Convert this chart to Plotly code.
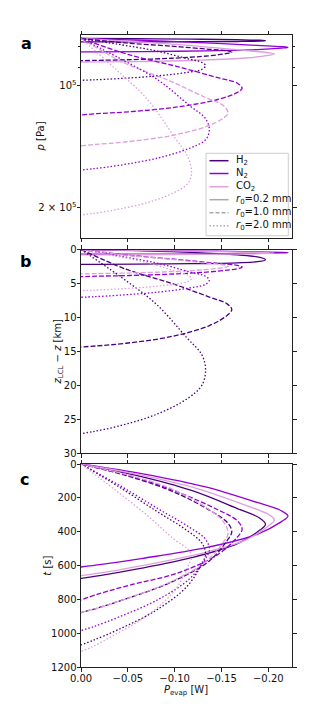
import plotly.graph_objects as go

# ---------------- data ----------------
gas_names = ["H2", "N2", "CO2"]
gas_labels = ["H<sub>2</sub>", "N<sub>2</sub>", "CO<sub>2</sub>"]
gas_colors = ["#4b0082", "#9400d3", "#dda0dd"]
radius_labels = ["0.2", "1.0", "2.0"]
radius_dash = ["solid", "5px,2px", "1.5px,2px"]

x_tick_vals = [0.0, -0.05, -0.10, -0.15, -0.20]
x_tick_text = ["0.00", "\u22120.05", "\u22120.10", "\u22120.15", "\u22120.20"]
p_tick_vals = [1e5, 2e5]
p_tick_text = ["10<sup>5</sup>", "2 \u00d7 10<sup>5</sup>"]
p_minor_vals = [8e4, 9e4]
z_tick_vals = [0, 5, 10, 15, 20, 25, 30]
t_tick_vals = [0, 200, 400, 600, 800, 1000, 1200]

# H2, r0 = 0.2 mm
P_H2_02 = [0, -0.059, -0.118, -0.167, -0.191, -0.197, -0.191, -0.167, -0.118, -0.059, -0.020, 0]
t_H2_02 = [0, 67, 156, 263, 320, 355, 390, 470, 553, 621, 659, 675]
z_H2_02 = [0, 0.17, 0.42, 0.8, 1.15, 1.5, 1.75, 1.96, 2.09, 2.16, 2.19, 2.2]
p_H2_02 = [76470, 76584, 76752, 77008, 77245, 77483, 77653, 77796, 77885, 77932, 77953, 77960]
# N2, r0 = 0.2 mm
P_N2_02 = [0, -0.066, -0.133, -0.188, -0.214, -0.221, -0.214, -0.188, -0.133, -0.066, -0.022, 0]
t_N2_02 = [0, 58, 135, 227, 276, 307, 340, 415, 494, 557, 593, 608]
z_N2_02 = [0, 0.101, 0.225, 0.36, 0.426, 0.465, 0.503, 0.582, 0.648, 0.685, 0.698, 0.70]
p_N2_02 = [76470, 77314, 78363, 79521, 80094, 80434, 80766, 81464, 82051, 82380, 82498, 82515]
# CO2, r0 = 0.2 mm
P_CO2_02 = [0, -0.062, -0.124, -0.176, -0.200, -0.2065, -0.200, -0.176, -0.124, -0.062, -0.021, 0]
t_CO2_02 = [0, 63, 145, 244, 297, 330, 366, 448, 534, 603, 643, 659]
z_CO2_02 = [0, 0.114, 0.253, 0.404, 0.478, 0.521, 0.565, 0.655, 0.730, 0.773, 0.787, 0.79]
p_CO2_02 = [76470, 77962, 79820, 81889, 82923, 83530, 84153, 85448, 86541, 87174, 87381, 87425]
# H2, r0 = 1.0 mm
P_H2_10 = [0, -0.048, -0.097, -0.137, -0.156, -0.161, -0.156, -0.137, -0.097, -0.048, -0.016, 0]
t_H2_10 = [0, 68, 160, 272, 344, 400, 452, 572, 696, 796, 853, 877]
z_H2_10 = [0, 2.9, 5.0, 7.0, 8.0, 8.85, 9.7, 11.2, 12.8, 13.8, 14.2, 14.35]
p_H2_10 = [76470, 78441, 79899, 81311, 82028, 82642, 83261, 84363, 85556, 86308, 86613, 86727]
# N2, r0 = 1.0 mm
P_N2_10 = [0, -0.052, -0.103, -0.146, -0.167, -0.172, -0.167, -0.146, -0.103, -0.052, -0.017, 0]
t_N2_10 = [0, 70, 165, 270, 335, 385, 431, 535, 644, 715, 770, 803]
z_N2_10 = [0, 0.86, 1.47, 2.05, 2.34, 2.6, 2.82, 3.19, 3.58, 3.83, 3.93, 4.0]
p_N2_10 = [76470, 83962, 89716, 95556, 98615, 101442, 103895, 108159, 112843, 115951, 117218, 118113]
# CO2, r0 = 1.0 mm
P_CO2_10 = [0, -0.047, -0.094, -0.133, -0.152, -0.157, -0.152, -0.133, -0.094, -0.047, -0.016, 0]
t_CO2_10 = [0, 60, 140, 255, 340, 410, 461, 578, 700, 798, 854, 877]
z_CO2_10 = [0, 0.83, 1.41, 1.98, 2.25, 2.5, 2.67, 2.96, 3.27, 3.47, 3.55, 3.6]
p_CO2_10 = [76470, 88020, 97112, 106960, 111969, 116813, 120228, 126286, 133096, 137683, 139563, 140752]
# H2, r0 = 2.0 mm
P_H2_20 = [0, -0.040, -0.080, -0.113, -0.129, -0.133, -0.129, -0.113, -0.080, -0.040, -0.013, 0]
t_H2_20 = [0, 133, 276, 392, 466, 530, 589, 724, 864, 977, 1041, 1068]
z_H2_20 = [0, 3.8, 8.0, 13.0, 15.5, 17.7, 20.0, 22.0, 24.3, 26.0, 26.8, 27.1]
p_H2_20 = [76470, 79061, 82028, 85706, 87606, 89312, 91132, 92745, 94635, 96055, 96733, 96986]
# N2, r0 = 2.0 mm
P_N2_20 = [0, -0.041, -0.082, -0.116, -0.133, -0.137, -0.133, -0.116, -0.082, -0.041, -0.014, 0]
t_N2_20 = [0, 126, 263, 374, 444, 505, 558, 677, 801, 902, 959, 983]
z_N2_20 = [0, 0.97, 2.03, 3.30, 3.94, 4.5, 5.12, 5.66, 6.28, 6.73, 6.95, 7.03]
p_N2_20 = [76470, 85515, 96728, 112005, 120586, 128616, 135974, 142677, 150840, 157164, 160227, 161396]
# CO2, r0 = 2.0 mm
P_CO2_20 = [0, -0.035, -0.071, -0.100, -0.114, -0.118, -0.114, -0.100, -0.071, -0.035, -0.012, 0]
t_CO2_20 = [0, 147, 305, 447, 501, 545, 607, 747, 893, 1011, 1079, 1107]
z_CO2_20 = [0, 0.92, 1.94, 3.16, 3.77, 4.3, 4.73, 5.10, 5.53, 5.85, 6.0, 6.05]
p_CO2_20 = [76470, 90157, 108101, 134159, 149573, 164473, 174303, 183284, 194238, 202746, 206872, 208448]

curves = {
    ("H2", "0.2"): (P_H2_02, p_H2_02, z_H2_02, t_H2_02),
    ("N2", "0.2"): (P_N2_02, p_N2_02, z_N2_02, t_N2_02),
    ("CO2", "0.2"): (P_CO2_02, p_CO2_02, z_CO2_02, t_CO2_02),
    ("H2", "1.0"): (P_H2_10, p_H2_10, z_H2_10, t_H2_10),
    ("N2", "1.0"): (P_N2_10, p_N2_10, z_N2_10, t_N2_10),
    ("CO2", "1.0"): (P_CO2_10, p_CO2_10, z_CO2_10, t_CO2_10),
    ("H2", "2.0"): (P_H2_20, p_H2_20, z_H2_20, t_H2_20),
    ("N2", "2.0"): (P_N2_20, p_N2_20, z_N2_20, t_N2_20),
    ("CO2", "2.0"): (P_CO2_20, p_CO2_20, z_CO2_20, t_CO2_20),
}

# ---------------- figure ----------------
W, H = 329, 727
OFF = 8  # page body margin
FONT = "DejaVu Sans, Liberation Sans, sans-serif"
fig = go.Figure()

axes_pairs = [("x", "y"), ("x2", "y2"), ("x3", "y3")]
for ri, r in enumerate(radius_labels):
    for gi, g in enumerate(gas_names):
        P, pp, zz, tt = curves[(g, r)]
        for k, yvals in enumerate([pp, zz, tt]):
            xa, ya = axes_pairs[k]
            fig.add_trace(go.Scatter(
                x=P, y=yvals, xaxis=xa, yaxis=ya, mode="lines",
                line=dict(color=gas_colors[gi], width=1.3, dash=radius_dash[ri],
                          shape="spline", smoothing=1.0),
                showlegend=False, hoverinfo="skip"))

def px_x(v):
    return (v - OFF) / W

def px_y(v):
    return 1 - (v - OFF) / H

x_dom = [px_x(81), px_x(292.3)]
dom_a = [px_y(238), px_y(35)]
dom_b = [px_y(453.3), px_y(249.5)]
dom_c = [px_y(667.3), px_y(464)]

axis_common = dict(showline=True, linecolor="#222", linewidth=0.9, mirror="ticks",
                   ticks="outside", ticklen=3.5, tickwidth=0.9, tickcolor="#222",
                   showgrid=False, zeroline=False, automargin=False,
                   tickfont=dict(family=FONT, size=10, color="#111"))

x_range = [0, -0.2256]
layout = dict(
    width=W, height=H, margin=dict(l=0, r=0, t=0, b=0, autoexpand=False),
    paper_bgcolor="white", plot_bgcolor="white",
    font=dict(family=FONT, size=10, color="#111"),
    xaxis=dict(domain=x_dom, anchor="y", range=x_range, tickvals=x_tick_vals,
               ticktext=x_tick_text, showticklabels=False, **axis_common),
    xaxis2=dict(domain=x_dom, anchor="y2", range=x_range, tickvals=x_tick_vals,
                ticktext=x_tick_text, showticklabels=False, **axis_common),
    xaxis3=dict(domain=x_dom, anchor="y3", range=x_range, tickvals=x_tick_vals,
                ticktext=x_tick_text, showticklabels=True, ticklabelstandoff=-2,
                **axis_common),
    yaxis=dict(domain=dom_a, anchor="x", type="log", range=[5.3758, 4.8749],
               tickvals=p_tick_vals, ticktext=p_tick_text, ticklabelstandoff=-2,
               minor=dict(tickvals=p_minor_vals, ticks="outside", ticklen=2,
                          tickwidth=0.7, tickcolor="#222", showgrid=False),
               **axis_common),
    yaxis2=dict(domain=dom_b, anchor="x2", range=[30, 0], tickvals=z_tick_vals,
                ticklabelstandoff=-2, **axis_common),
    yaxis3=dict(domain=dom_c, anchor="x3", range=[1200, 0], tickvals=t_tick_vals,
                ticklabelstandoff=-2, **axis_common),
    showlegend=False,
)
fig.update_layout(**layout)

# ---------------- manual legend (panel a, lower right) ----------------
shapes = []
annotations = []
shapes.append(dict(type="rect", xref="paper", yref="paper",
                   x0=px_x(206), x1=px_x(288.3), y0=px_y(235.7), y1=px_y(153.3),
                   line=dict(color="#cccccc", width=1), fillcolor="rgba(255,255,255,0.85)"))
legend_rows_y = [160.7, 173.5, 186.7, 199.7, 212.7, 225.8]
legend_texts = gas_labels + ["<i>r</i><sub>0</sub>=" + r + " mm" for r in radius_labels]
legend_colors = gas_colors + ["#aaaaaa"] * 3
legend_dashes = ["solid"] * 3 + ["solid", "4px,2px", "1.5px,2px"]
for ly, lt, lc, ld in zip(legend_rows_y, legend_texts, legend_colors, legend_dashes):
    shapes.append(dict(type="line", xref="paper", yref="paper",
                       x0=px_x(209.5), x1=px_x(228.5), y0=px_y(ly), y1=px_y(ly),
                       line=dict(color=lc, width=1.5, dash=ld)))
    annotations.append(dict(text=lt, x=px_x(234), y=px_y(ly), xref="paper", yref="paper",
                            showarrow=False, xanchor="left", yanchor="middle",
                            font=dict(family=FONT, size=10, color="#111")))

# panel letters
for letter, (ax_, ay_) in zip(["a", "b", "c"], [(26, 44), (25.5, 262), (24.5, 479.5)]):
    annotations.append(dict(text="<b>" + letter + "</b>", x=px_x(ax_), y=px_y(ay_),
                            xref="paper", yref="paper", showarrow=False,
                            font=dict(family=FONT, size=16, color="#000"),
                            xanchor="center", yanchor="middle"))
# y axis titles
for txt, (ax_, ay_) in zip(["<i>p</i> [Pa]", "<i>z</i><sub>LCL</sub> \u2212 <i>z</i> [km]", "<i>t</i> [s]"],
                           [(40, 136.5), (58, 351.5), (48, 565.7)]):
    annotations.append(dict(text=txt, x=px_x(ax_), y=px_y(ay_), xref="paper", yref="paper",
                            showarrow=False, textangle=-90,
                            font=dict(family=FONT, size=10, color="#111"),
                            xanchor="center", yanchor="middle"))
# x axis title
annotations.append(dict(text="<i>P</i><sub>evap</sub> [W]", x=px_x(186), y=px_y(690.5),
                        xref="paper", yref="paper", showarrow=False,
                        font=dict(family=FONT, size=10, color="#111"),
                        xanchor="center", yanchor="middle"))
fig.update_layout(shapes=shapes, annotations=annotations)

fig.write_html("out.html")
